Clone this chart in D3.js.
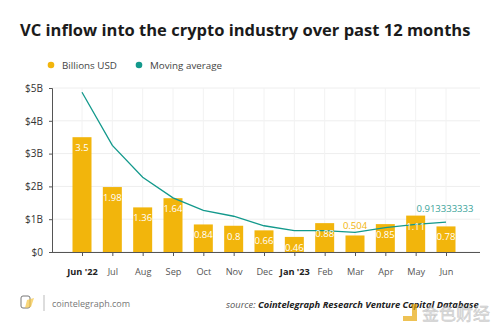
<!DOCTYPE html>
<html>
<head>
<meta charset="utf-8">
<script src="https://cdn.jsdelivr.net/npm/d3@7"></script>
<style>
  body { margin: 0; background: #fff; }
  svg { display: block; font-family: "Open Sans", sans-serif; }
</style>
</head>
<body>
<svg width="500" height="332"></svg>
<script>
var months = ["Jun '22", "Jul", "Aug", "Sep", "Oct", "Nov", "Dec", "Jan '23", "Feb", "Mar", "Apr", "May", "Jun"];
var boldMonths = ["Jun '22", "Jan '23"];
var inflow = [3.5, 1.98, 1.36, 1.64, 0.84, 0.8, 0.66, 0.46, 0.88, 0.504, 0.85, 1.11, 0.78];
var movingAvg = [4.87, 3.25, 2.28, 1.65, 1.27, 1.09, 0.8, 0.65, 0.65, 0.6, 0.74, 0.84, 0.913333333];
var barLabels = ["3.5", "1.98", "1.36", "1.64", "0.84", "0.8", "0.66", "0.46", "0.88", "0.504", "0.85", "1.11", "0.78"];
var yTicks = [0, 1, 2, 3, 4, 5];

var svg = d3.select("svg");
var gold = "#f2b50c", teal = "#13998c";

var x = d3.scalePoint().domain(months).range([82, 446]);
var y = d3.scaleLinear().domain([0, 5]).range([252, 88]);
var left = 52, right = 480, barW = 19;

// shrink a text until it fits the wanted width
function fitWidth(t, w) {
    var fs = +t.attr("font-size");
    var len = t.node().getComputedTextLength();
    if (len > 0) t.attr("font-size", fs * w / len);
}

// title
var title = svg.append("text")
    .attr("x", 20).attr("y", 36)
    .attr("font-size", 19.5).attr("font-weight", 700).attr("fill", "#1b1b1b")
    .text("VC inflow into the crypto industry over past 12 months");
fitWidth(title, 451);

// legend
var legend = [{name: "Billions USD", color: gold, x: 51}, {name: "Moving average", color: teal, x: 139}];
legend.forEach(function(l) {
    svg.append("circle").attr("cx", l.x).attr("cy", 65).attr("r", 3.3).attr("fill", l.color);
    svg.append("text").attr("x", l.x + 11).attr("y", 69)
        .attr("font-size", 9.8).attr("fill", "#444").text(l.name);
});

// grid
var grid = svg.append("g");
grid.selectAll(".hg").data(yTicks).join("line")
    .attr("x1", left).attr("x2", right)
    .attr("y1", d => y(d)).attr("y2", d => y(d))
    .attr("stroke", "#eeeeee");
grid.selectAll(".vg").data(months).join("line")
    .attr("x1", d => x(d)).attr("x2", d => x(d))
    .attr("y1", y(5)).attr("y2", y(0))
    .attr("stroke", "#f2f2f2");

// y axis
var yAxis = svg.append("g")
    .attr("transform", "translate(" + left + ",0)")
    .call(d3.axisLeft(y).tickValues(yTicks).tickSize(3)
        .tickFormat(d => d === 0 ? "$0" : "$" + d + "B"));
yAxis.select(".domain").attr("stroke", "#555");
yAxis.selectAll(".tick line").attr("stroke", "#555");
yAxis.selectAll("text").attr("font-size", 10).attr("fill", "#333")
    .attr("font-family", "Open Sans, sans-serif").attr("x", -9);

// bars
svg.selectAll(".bar").data(inflow).join("rect")
    .attr("x", (d, i) => x(months[i]) - barW / 2)
    .attr("width", barW)
    .attr("y", d => y(d))
    .attr("height", d => y(0) - y(d))
    .attr("fill", gold);

// x axis
var xAxis = svg.append("g")
    .attr("transform", "translate(0," + y(0) + ")")
    .call(d3.axisBottom(x).tickSize(4).tickPadding(12));
xAxis.select(".domain").attr("d", "M" + left + ",0.5H" + right).attr("stroke", "#555");
xAxis.selectAll(".tick line").attr("stroke", "#555");
xAxis.selectAll("text").attr("font-size", 9.2)
    .attr("font-family", "Open Sans, sans-serif")
    .attr("font-weight", d => boldMonths.includes(d) ? 700 : 400)
    .attr("fill", d => boldMonths.includes(d) ? "#222" : "#555");

// moving average line
var line = d3.line()
    .x((d, i) => x(months[i]))
    .y(d => y(d));
svg.append("path").datum(movingAvg)
    .attr("d", line).attr("fill", "none")
    .attr("stroke", teal).attr("stroke-width", 1.3);

// bar labels
svg.selectAll(".lbl").data(inflow).join("text")
    .attr("x", (d, i) => x(months[i]))
    .attr("y", (d, i) => i === 9 ? y(d) - 6 : y(d) + 14)
    .attr("text-anchor", "middle")
    .attr("font-size", 9.5)
    .attr("fill", (d, i) => i === 9 ? gold : "#fff")
    .text((d, i) => barLabels[i]);

// last moving average label
svg.append("text")
    .attr("x", x(months[12]) - 1).attr("y", y(movingAvg[12]) - 10)
    .attr("text-anchor", "middle").attr("font-size", 9.5).attr("fill", "#3aa39a")
    .text("0.913333333");

// footer
var logo = svg.append("g").attr("transform", "translate(21,296)");
logo.append("rect").attr("x", 0).attr("y", 0).attr("width", 9).attr("height", 12).attr("rx", 2)
    .attr("fill", "none").attr("stroke", "#777").attr("stroke-width", 1);
logo.append("path").attr("d", "M6,4 L13,2 L10,11 L4,12 Z").attr("fill", "#f5c542").attr("opacity", 0.7);
svg.append("line").attr("x1", 44).attr("x2", 44).attr("y1", 295).attr("y2", 311)
    .attr("stroke", "#bbb");
svg.append("text").attr("x", 52).attr("y", 307)
    .attr("font-size", 9).attr("fill", "#777").text("cointelegraph.com");

var src = svg.append("text").attr("x", 226).attr("y", 308)
    .attr("font-size", 10).attr("font-style", "italic");
src.append("tspan").attr("fill", "#555").text("source: ");
src.append("tspan").attr("fill", "#222").attr("font-weight", 700)
    .text("Cointelegraph Research Venture Capital Database");
fitWidth(src, 253);

// watermark
var wm = svg.append("g").attr("opacity", 0.7);
wm.append("path").attr("d", "M403,316 h9 v-12 h5 v17 h-14 Z").attr("fill", "#e8a90c");
wm.append("text").attr("x", 422).attr("y", 320).attr("font-size", 17)
    .attr("font-family", "Noto Sans CJK SC").attr("fill", "#d0d0d0")
    .attr("stroke", "#aaa").attr("stroke-width", 0.4)
    .text("金色财经");
</script>
</body>
</html>
